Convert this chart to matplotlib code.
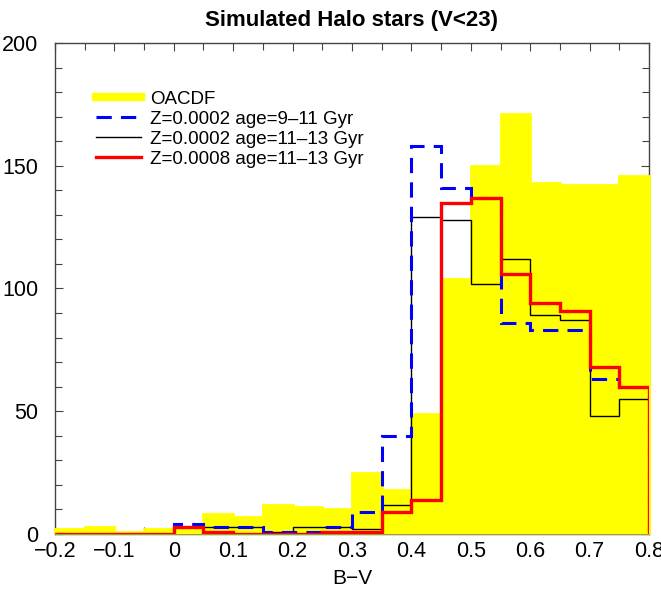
import numpy as np
import matplotlib.pyplot as plt
from matplotlib.ticker import MultipleLocator
from matplotlib.lines import Line2D

plt.rcParams['font.family'] = ['Liberation Sans', 'DejaVu Sans']

# bin edges in B-V (width 0.05)
edges = np.round(np.arange(-0.2, 0.8001, 0.05), 2)

# observed OACDF counts
oacdf = [2, 3, 1, 2, 3, 8, 7, 12, 11, 10, 25, 18, 49, 104, 150, 171, 143, 142, 142, 146]
# simulated halo models
z2_9_11 = [0, 0, 0, 0, 4, 3, 3, 1, 1, 3, 9, 40, 158, 141, 137, 86, 83, 83, 63, 60]
z2_11_13 = [0, 0, 0, 0, 3, 3, 3, 1, 3, 3, 2, 12, 129, 128, 102, 112, 89, 87, 48, 55]
z8_11_13 = [0, 0, 0, 0, 3, 1, 0, 0, 0, 1, 1, 9, 14, 135, 137, 106, 94, 91, 68, 60]

labels = ['OACDF', 'Z=0.0002 age=9\u201311 Gyr',
          'Z=0.0002 age=11\u201313 Gyr', 'Z=0.0008 age=11\u201313 Gyr']

fig = plt.figure(figsize=(6.61, 5.93), dpi=100)
ax = fig.add_axes([0.083, 0.0995, 0.899, 0.828])

ax.stairs(oacdf, edges, fill=True, color='#ffff00', edgecolor='#ffff00',
          linewidth=2, zorder=2.6, clip_on=False)
ax.stairs(z2_9_11, edges, color='blue', linewidth=2.2, linestyle=(0, (5, 3)), zorder=3)
ax.stairs(z2_11_13, edges, color='black', linewidth=1.0, zorder=2.8)
ax.stairs(z8_11_13, edges, color='red', linewidth=2.4, zorder=4)

ax.set_xlim(-0.2, 0.8)
ax.set_ylim(0, 200)
ax.xaxis.set_major_locator(MultipleLocator(0.1))
ax.xaxis.set_minor_locator(MultipleLocator(0.05))
ax.yaxis.set_major_locator(MultipleLocator(50))
ax.yaxis.set_minor_locator(MultipleLocator(10))
ax.xaxis.set_major_formatter(plt.FuncFormatter(
    lambda v, p: '0' if abs(v) < 1e-9 else ('%.1f' % v).replace('-', '\u2212')))
ax.tick_params(which='both', direction='in', top=True, right=True,
               labelsize=15.5, width=0.8, color='#444444')
ax.tick_params(which='major', length=6)
ax.tick_params(which='minor', length=5)
ax.tick_params(axis='x', pad=5)
ax.tick_params(axis='y', pad=12)
for s in ax.spines.values():
    s.set_color('#444444')
    s.set_linewidth(1.0)

ax.set_title('Simulated Halo stars (V<23)', fontsize=16, fontweight='bold', pad=12)
ax.set_xlabel('B\u2212V', fontsize=15, labelpad=5)

handles = [Line2D([], [], color='#ffff00', lw=6),
           Line2D([], [], color='blue', lw=2.2, ls=(0, (5, 3))),
           Line2D([], [], color='black', lw=1.0),
           Line2D([], [], color='red', lw=2.4)]
ax.legend(handles, labels, loc='upper left', bbox_to_anchor=(0.04, 0.937),
          frameon=False, fontsize=13.5, handlelength=2.4, labelspacing=0.15,
          handletextpad=0.5)

fig.savefig('out.png', dpi=100)
